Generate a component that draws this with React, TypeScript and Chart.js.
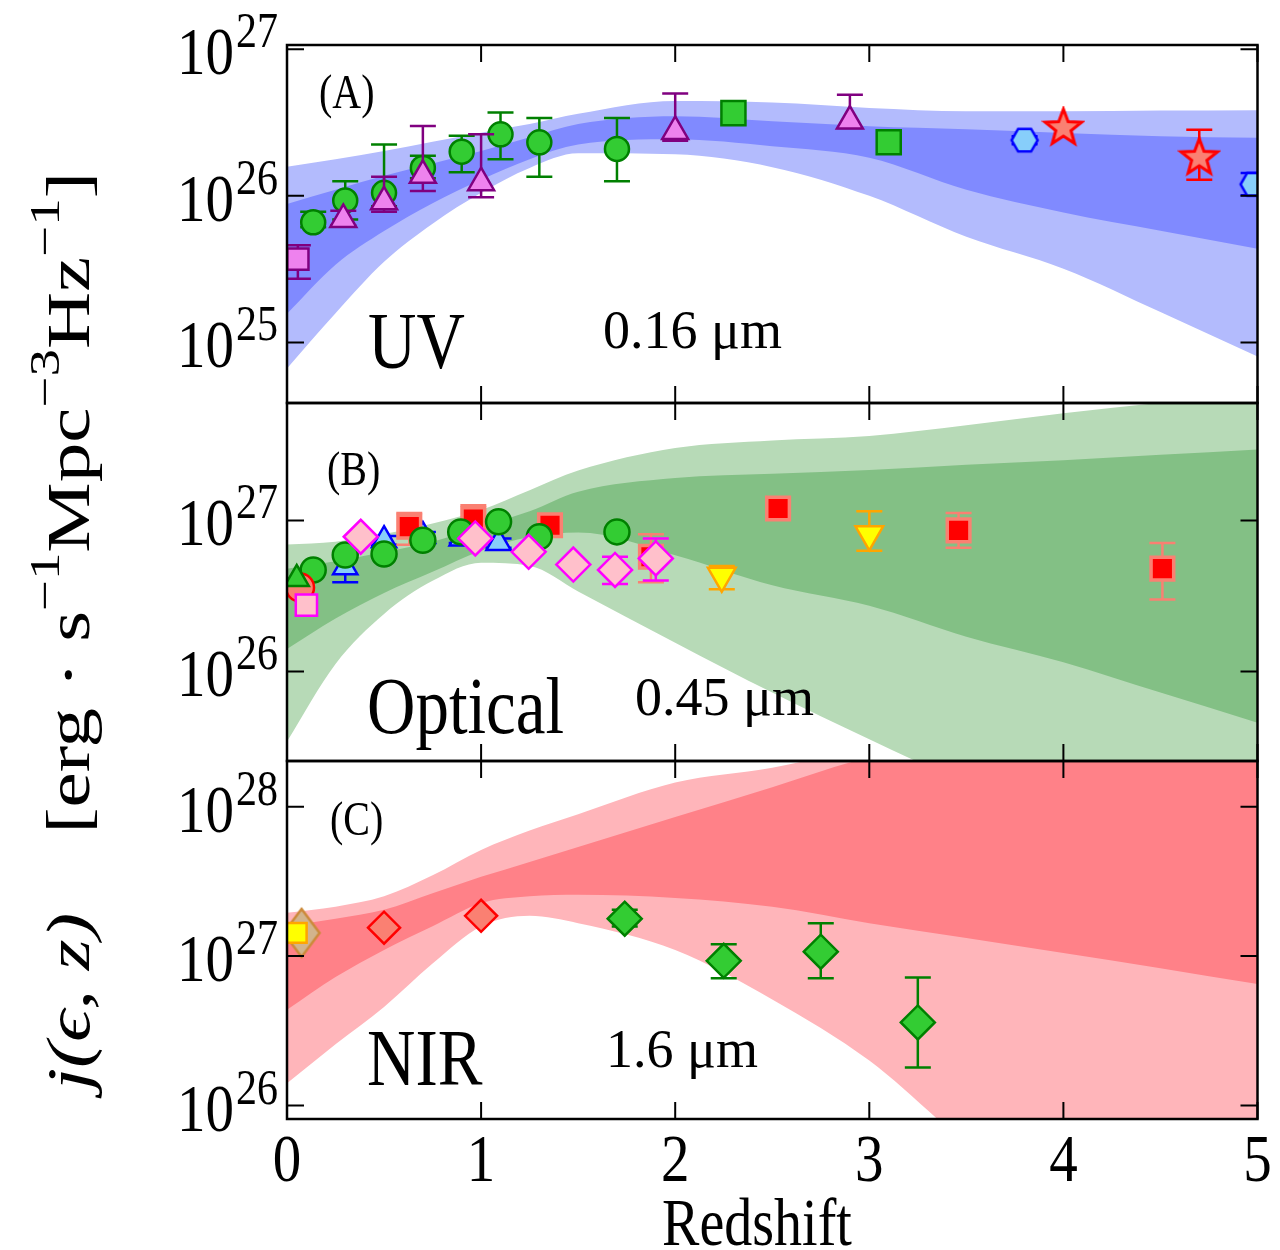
import React, { useEffect, useRef } from 'react';
import { Chart, registerables } from 'chart.js';

const SERIF = '"Liberation Serif", "Times New Roman", serif';

// ---------------- DATA ----------------
// redshift samples of the model bands
const zBand = [0, 0.25, 0.5, 0.75, 1, 1.25, 1.5, 2, 2.5, 3, 3.5, 4, 4.5, 5];

// Panel A : UV (0.16 um) model bands
const uvOuterHi = [1.58e26, 1.78e26, 2.02e26, 2.34e26, 2.70e26, 3.09e26, 3.63e26, 4.44e26, 4.33e26, 3.98e26, 3.78e26, 3.78e26, 3.82e26, 3.84e26];
const uvInnerHi = [8.79e25, 1.10e26, 1.37e26, 1.66e26, 2.02e26, 2.51e26, 3.09e26, 3.49e26, 3.23e26, 2.99e26, 2.85e26, 2.69e26, 2.55e26, 2.49e26];
const uvInnerLo = [1.57e25, 3.39e25, 5.75e25, 8.91e25, 1.29e26, 1.78e26, 2.24e26, 2.43e26, 2.18e26, 1.82e26, 1.10e26, 7.71e25, 5.78e25, 4.35e25];
const uvOuterLo = [6.65e24, 1.58e25, 3.55e25, 6.46e25, 1.05e26, 1.55e26, 1.95e26, 1.92e26, 1.57e26, 1.0e26, 5.25e25, 3.18e25, 1.61e25, 8.0e24];

// Panel A : UV data points
const uvCircZ = [0.135, 0.30, 0.50, 0.70, 0.90, 1.10, 1.30, 1.70];
const uvCircV = [6.6e25, 9.3e25, 1.05e26, 1.55e26, 2.0e26, 2.63e26, 2.32e26, 2.09e26];
const uvCircLo = [6.1e25, 6.9e25, 8.5e25, 1.32e26, 1.45e26, 1.78e26, 1.35e26, 1.26e26];
const uvCircHi = [7.8e25, 1.26e26, 2.24e26, 1.88e26, 2.57e26, 3.7e26, 3.4e26, 3.4e26];

const uvTriZ = [0.29, 0.50, 0.70, 1.0, 2.0, 2.9];
const uvTriV = [6.9e25, 9.1e25, 1.38e26, 1.23e26, 2.75e26, 3.24e26];
const uvTriLo = [6.3e25, 7.8e25, 1.08e26, 9.8e25, 2.38e26, 2.9e26];
const uvTriHi = [7.9e25, 1.35e26, 3.0e26, 2.63e26, 5.0e26, 4.9e26];

const uvSqZ = [0.056];
const uvSqV = [3.7e25];
const uvSqLo = [2.72e25];
const uvSqHi = [4.6e25];

const uvGSqZ = [2.30, 3.10];
const uvGSqV = [3.67e26, 2.32e26];

const uvHexZ = [3.80, 4.98];
const uvHexV = [2.4e26, 1.2e26];
const uvHexLo = [2.25e26, 1.01e26];
const uvHexHi = [2.55e26, 1.43e26];

const uvStarZ = [4.0, 4.70];
const uvStarV = [2.9e26, 1.82e26];
const uvStarLo = [null, 1.29e26];
const uvStarHi = [null, 2.82e26];

// Panel B : Optical (0.45 um) model bands
const opOuterHi = [6.92e26, 7.24e26, 8.13e26, 9.55e26, 1.175e27, 1.585e27, 2.14e27, 3.02e27, 3.39e27, 3.63e27, 4.27e27, 5.13e27, 6.03e27, 7.24e27];
const opInnerHi = [4.79e26, 5.37e26, 6.17e26, 7.24e26, 9.12e26, 1.15e27, 1.55e27, 1.91e27, 2.04e27, 2.16e27, 2.34e27, 2.51e27, 2.72e27, 2.95e27];
const opInnerLo = [1.41e26, 2.24e26, 3.31e26, 4.57e26, 6.31e26, 7.76e26, 8.32e26, 5.89e26, 3.72e26, 2.72e26, 1.70e26, 1.15e26, 7.24e25, 4.57e25];
const opOuterLo = [3.43e25, 1.12e26, 2.40e26, 3.98e26, 5.25e26, 5.01e26, 3.39e26, 1.55e26, 7.24e25, 3.55e25, 1.78e25, 8.9e24, 4.5e24, 2.2e24];

// Panel B : Optical data points
const opRedSqZ = [0.63, 0.96, 1.355, 1.875, 2.53, 3.46, 4.51];
const opRedSqV = [9.1e26, 1.02e27, 9.3e26, 5.75e26, 1.2e27, 8.6e26, 4.8e26];
const opRedSqLo = [6.9e26, 8.5e26, 8.5e26, 3.9e26, 1.12e27, 6.6e26, 3.0e26];
const opRedSqHi = [1.12e27, 1.26e27, 1.0e27, 8.1e26, 1.32e27, 1.12e27, 7.1e26];

const opCircZ = [0.135, 0.30, 0.50, 0.70, 0.895, 1.09, 1.30, 1.70];
const opCircV = [4.7e26, 5.9e26, 6.0e26, 7.4e26, 8.4e26, 9.8e26, 7.8e26, 8.4e26];

const opBlueTriZ = [0.30, 0.50, 0.70, 0.90, 1.09];
const opBlueTriV = [4.9e26, 7.4e26, 7.9e26, 7.6e26, 7.1e26];
const opBlueTriLo = [3.9e26, 6.9e26, 7.4e26, 7.1e26, 6.6e26];
const opBlueTriHi = [6.0e26, 7.9e26, 8.4e26, 8.1e26, 7.6e26];

const opDiaZ = [0.38, 0.97, 1.245, 1.475, 1.69, 1.90];
const opDiaV = [7.8e26, 7.6e26, 6.2e26, 5.1e26, 4.7e26, 5.6e26];
const opDiaLo = [null, null, null, 4.8e26, 3.8e26, 4.0e26];
const opDiaHi = [null, null, null, 5.4e26, 5.75e26, 7.6e26];

const opPinkSqZ = [0.10];
const opPinkSqV = [2.75e26];
const opRedCircZ = [0.067];
const opRedCircV = [3.6e26];
const opGTriZ = [0.05];
const opGTriV = [4.1e26];

const opDownTriZ = [2.24, 3.0];
const opDownTriV = [4.3e26, 8.1e26];
const opDownTriLo = [3.5e26, 6.3e26];
const opDownTriHi = [5.0e26, 1.15e27];

// Panel C : NIR (1.6 um) model bands
const nirOuterHi = [1.95e27, 2.14e27, 2.51e27, 3.47e27, 5.13e27, 6.92e27, 8.91e27, 1.45e28, 1.82e28, 2.51e28, 3.16e28, 3.98e28, 5.0e28, 6.3e28];
const nirInnerHi = [1.585e27, 1.78e27, 2.04e27, 2.63e27, 3.39e27, 4.27e27, 5.37e27, 8.51e27, 1.35e28, 2.14e28, 2.8e28, 3.5e28, 4.5e28, 5.6e28];
const nirInnerLo = [4.37e26, 7.24e26, 1.10e27, 1.585e27, 2.26e27, 2.51e27, 2.57e27, 2.45e27, 2.14e27, 1.66e27, 1.32e27, 1.05e27, 8.3e26, 6.5e26];
const nirOuterLo = [1.41e26, 2.57e26, 4.57e26, 8.91e26, 1.58e27, 1.86e27, 1.66e27, 1.10e27, 5.13e26, 2.0e26, 5.6e25, 2.0e25, 7.9e24, 3.2e24];

// Panel C : NIR data points
const nirTanZ = [0.075];
const nirTanV = [1.43e27];
const nirYelZ = [0.05];
const nirYelV = [1.43e27];
const nirRedDiaZ = [0.50, 1.0];
const nirRedDiaV = [1.55e27, 1.86e27];
const nirGDiaZ = [1.74, 2.25, 2.75, 3.25];
const nirGDiaV = [1.78e27, 9.3e26, 1.07e27, 3.6e26];
const nirGDiaLo = [1.58e27, 7.1e26, 7.1e26, 1.8e26];
const nirGDiaHi = [2.04e27, 1.2e27, 1.66e27, 7.2e26];

// axis ranges and tick labels
const xTicks = [0, 1, 2, 3, 4, 5];
const yRangeA = [3.86e24, 1.07e27];
const yRangeB = [2.55e25, 6.0e27];
const yRangeC = [8.13e25, 2.02e28];

// ---------------- COLOURS ----------------
const GREEN_E = '#008000';
const GREEN_F = '#33cc33';
const PURPLE = '#800080';
const VIOLET = '#ee82ee';
const BLUE = '#0000ff';
const SKY = '#87cefa';
const RED = '#ff0000';
const SALMON = '#fa8072';
const PINK = '#ffc0cb';
const MAGENTA = '#ff00ff';
const ORANGE = '#ffa500';
const YELLOW = '#ffff00';

// ---------------- helpers ----------------
const xy = (xs: number[], ys: number[]) => xs.map((x, i) => ({ x, y: ys[i] }));

function band(yID: string, hi: number[], lo: number[], color: string, order: number) {
  const common = {
    type: 'line', yAxisID: yID, borderWidth: 0, borderColor: 'rgba(0,0,0,0)',
    pointRadius: 0, cubicInterpolationMode: 'monotone', order,
  };
  return [
    { ...common, data: xy(zBand, hi), fill: '+1', backgroundColor: color },
    { ...common, data: xy(zBand, lo), fill: false, backgroundColor: color },
  ];
}

function pts(yID: string, xs: number[], ys: number[], o: any) {
  return {
    type: 'scatter', yAxisID: yID, data: xy(xs, ys), showLine: false,
    pointRadius: o.r, pointStyle: o.style, rotation: o.rot || 0,
    backgroundColor: o.fill, borderColor: o.edge, pointBorderWidth: o.lw ?? 2.5,
    borderWidth: o.lw ?? 2.5, order: o.order ?? 5,
    errLo: o.lo, errHi: o.hi, errColor: o.errColor || o.edge,
  };
}

function makeCanvas(size: number) {
  const c = document.createElement('canvas');
  c.width = size; c.height = size;
  const g = c.getContext('2d')!;
  g.translate(size / 2, size / 2);
  return { c, g };
}
function starImg() {
  const { c, g } = makeCanvas(44);
  g.beginPath();
  for (let k = 0; k < 10; k++) {
    const a = -Math.PI / 2 + (k * Math.PI) / 5;
    const rr = k % 2 === 0 ? 19 : 8;
    g.lineTo(rr * Math.cos(a), rr * Math.sin(a));
  }
  g.closePath();
  g.fillStyle = SALMON; g.fill();
  g.lineWidth = 3; g.strokeStyle = RED; g.lineJoin = 'miter'; g.stroke();
  return c;
}
function hexImg() {
  const { c, g } = makeCanvas(34);
  g.beginPath();
  for (let k = 0; k < 6; k++) {
    const a = (k * Math.PI) / 3;
    g.lineTo(13 * Math.cos(a), 13 * Math.sin(a));
  }
  g.closePath();
  g.fillStyle = SKY; g.fill();
  g.lineWidth = 2.5; g.strokeStyle = BLUE; g.stroke();
  return c;
}
function tallDiamondImg() {
  const { c, g } = makeCanvas(56);
  g.beginPath();
  g.moveTo(0, -24); g.lineTo(18, 0); g.lineTo(0, 24); g.lineTo(-18, 0);
  g.closePath();
  g.fillStyle = '#d2b48c'; g.fill();
  g.lineWidth = 2.5; g.strokeStyle = '#cc8a3a'; g.stroke();
  return c;
}

function sText(ctx: CanvasRenderingContext2D, str: string, x: number, y: number, size: number,
  align: CanvasTextAlign = 'left', sy = 1.2, style = '') {
  ctx.save();
  ctx.font = `${style}${size}px ${SERIF}`;
  ctx.textAlign = align;
  ctx.textBaseline = 'alphabetic';
  ctx.fillStyle = '#000';
  ctx.translate(x, y);
  ctx.scale(1, sy);
  ctx.fillText(str, 0, 0);
  ctx.restore();
}

const CAP = 13;
const TICK = 17;

const panelPlugin = {
  id: 'panelPlugin',
  beforeDatasetDraw(chart: any, args: any) {
    const meta = args.meta;
    const ys = meta.yScale;
    const area = chart.chartArea;
    const ctx = chart.ctx as CanvasRenderingContext2D;
    ctx.save();
    ctx.beginPath();
    ctx.rect(area.left, ys.top, area.right - area.left, ys.bottom - ys.top);
    ctx.clip();
    const ds = chart.data.datasets[args.index];
    if (ds.errLo && ds.errHi) {
      const xs = meta.xScale;
      ctx.save();
      ctx.strokeStyle = ds.errColor;
      ctx.lineWidth = 2.5;
      ds.data.forEach((p: any, i: number) => {
        const lo = ds.errLo[i];
        const hi = ds.errHi[i];
        if (lo == null || hi == null) return;
        const px = xs.getPixelForValue(p.x);
        const y1 = ys.getPixelForValue(hi);
        const y2 = ys.getPixelForValue(lo);
        ctx.beginPath();
        ctx.moveTo(px, y1); ctx.lineTo(px, y2);
        ctx.moveTo(px - CAP, y1); ctx.lineTo(px + CAP, y1);
        ctx.moveTo(px - CAP, y2); ctx.lineTo(px + CAP, y2);
        ctx.stroke();
      });
      ctx.restore();
    }
  },
  afterDatasetDraw(chart: any) {
    chart.ctx.restore();
  },
  afterDraw(chart: any) {
    const ctx = chart.ctx as CanvasRenderingContext2D;
    const area = chart.chartArea;
    const xs = chart.scales.x;
    const panels = [chart.scales.yA, chart.scales.yB, chart.scales.yC];
    ctx.save();
    ctx.strokeStyle = '#000';
    for (const ys of panels) {
      // inward ticks
      ctx.lineWidth = 2;
      ctx.beginPath();
      for (const z of xTicks) {
        const px = xs.getPixelForValue(z);
        ctx.moveTo(px, ys.top); ctx.lineTo(px, ys.top + TICK);
        ctx.moveTo(px, ys.bottom); ctx.lineTo(px, ys.bottom - TICK);
      }
      const eMin = Math.ceil(Math.log10(ys.min) - 1e-9);
      const eMax = Math.floor(Math.log10(ys.max) + 1e-9);
      for (let e = eMin; e <= eMax; e++) {
        const py = ys.getPixelForValue(Math.pow(10, e));
        ctx.moveTo(area.left, py); ctx.lineTo(area.left + TICK, py);
        ctx.moveTo(area.right, py); ctx.lineTo(area.right - TICK, py);
      }
      ctx.stroke();
      // frame
      ctx.lineWidth = 2.5;
      ctx.strokeRect(area.left, ys.top, area.right - area.left, ys.bottom - ys.top);
      // tick labels 10^e
      for (let e = eMin; e <= eMax; e++) {
        const py = ys.getPixelForValue(Math.pow(10, e));
        const exp = String(e);
        ctx.font = `42px ${SERIF}`;
        const wExp = ctx.measureText(exp).width;
        sText(ctx, exp, area.left - 9, py - 2, 42, 'right');
        sText(ctx, '10', area.left - 9 - wExp - 2, py + 25, 57, 'right');
      }
    }
    // x tick labels and title
    for (const z of xTicks) {
      sText(ctx, String(z), xs.getPixelForValue(z), 1181, 57, 'center');
    }
    sText(ctx, 'Redshift', 757, 1245, 56, 'center');

    // panel annotations
    sText(ctx, '(A)', 319, 108, 40);
    sText(ctx, 'UV', 368, 368, 67);
    sText(ctx, '0.16 μm', 603, 348, 54, 'left', 1);
    sText(ctx, '(B)', 327, 485, 40);
    sText(ctx, 'Optical', 367, 733, 67);
    sText(ctx, '0.45 μm', 635, 715, 54, 'left', 1);
    sText(ctx, '(C)', 330, 835, 40);
    sText(ctx, 'NIR', 367, 1085, 67);
    sText(ctx, '1.6 μm', 606, 1067, 54, 'left', 1);

    // y axis title (rotated)
    const runs = [
      { t: 'j(ϵ, z)', s: 62, it: true, sup: false },
      { t: '    ', s: 62, it: false, sup: false },
      { t: '[erg · s', s: 62, it: false, sup: false },
      { t: '−1', s: 43, it: false, sup: true },
      { t: 'Mpc', s: 62, it: false, sup: false },
      { t: '−3', s: 43, it: false, sup: true },
      { t: 'Hz', s: 62, it: false, sup: false },
      { t: '−1', s: 43, it: false, sup: true },
      { t: ']', s: 62, it: false, sup: false },
    ];
    let total = 0;
    const widths = runs.map((r) => {
      ctx.font = `${r.it ? 'italic ' : ''}${r.s}px ${SERIF}`;
      const w = ctx.measureText(r.t).width;
      total += w;
      return w;
    });
    const y0 = 1090;
    const y1 = 172;
    const stretch = (y0 - y1) / total;
    ctx.save();
    ctx.translate(89, y0);
    ctx.rotate(-Math.PI / 2);
    ctx.scale(stretch, 1);
    ctx.fillStyle = '#000';
    ctx.textBaseline = 'alphabetic';
    ctx.textAlign = 'left';
    let pos = 0;
    runs.forEach((r, i) => {
      ctx.font = `${r.it ? 'italic ' : ''}${r.s}px ${SERIF}`;
      ctx.fillText(r.t, pos, r.sup ? -30 : 0);
      pos += widths[i];
    });
    ctx.restore();
    ctx.restore();
  },
};

Chart.register(panelPlugin as any);
Chart.register(...registerables);

function buildConfig() {
  const star = starImg();
  const hex = hexImg();
  const tallDia = tallDiamondImg();
  const datasets: any[] = [
    // Panel A
    ...band('yA', uvOuterHi, uvOuterLo, 'rgb(179,187,253)', 100),
    ...band('yA', uvInnerHi, uvInnerLo, 'rgb(128,138,255)', 90),
    pts('yA', uvCircZ, uvCircV, { r: 12, style: 'circle', fill: GREEN_F, edge: GREEN_E, lo: uvCircLo, hi: uvCircHi, order: 20 }),
    pts('yA', uvTriZ, uvTriV, { r: 15, style: 'triangle', fill: VIOLET, edge: PURPLE, lo: uvTriLo, hi: uvTriHi, order: 10 }),
    pts('yA', uvSqZ, uvSqV, { r: 15, style: 'rect', fill: VIOLET, edge: PURPLE, lo: uvSqLo, hi: uvSqHi, order: 10 }),
    pts('yA', uvGSqZ, uvGSqV, { r: 17, style: 'rect', fill: GREEN_F, edge: GREEN_E, order: 10 }),
    pts('yA', uvHexZ, uvHexV, { r: 13, style: hex, fill: SKY, edge: BLUE, lo: uvHexLo, hi: uvHexHi, order: 10 }),
    pts('yA', uvStarZ, uvStarV, { r: 19, style: star, fill: SALMON, edge: RED, lo: uvStarLo, hi: uvStarHi, order: 10 }),
    // Panel B
    ...band('yB', opOuterHi, opOuterLo, 'rgb(183,218,183)', 100),
    ...band('yB', opInnerHi, opInnerLo, 'rgb(131,192,133)', 90),
    pts('yB', opBlueTriZ, opBlueTriV, { r: 14, style: 'triangle', fill: SKY, edge: BLUE, lo: opBlueTriLo, hi: opBlueTriHi, order: 30 }),
    pts('yB', opRedSqZ, opRedSqV, { r: 16, style: 'rect', fill: RED, edge: SALMON, lw: 3.5, lo: opRedSqLo, hi: opRedSqHi, order: 25 }),
    pts('yB', opCircZ, opCircV, { r: 12.5, style: 'circle', fill: GREEN_F, edge: GREEN_E, order: 20 }),
    pts('yB', opDownTriZ, opDownTriV, { r: 16, style: 'triangle', rot: 180, fill: YELLOW, edge: ORANGE, lo: opDownTriLo, hi: opDownTriHi, order: 15 }),
    pts('yB', opDiaZ, opDiaV, { r: 17, style: 'rectRot', fill: PINK, edge: MAGENTA, lo: opDiaLo, hi: opDiaHi, order: 10 }),
    pts('yB', opRedCircZ, opRedCircV, { r: 14, style: 'circle', fill: SALMON, edge: RED, order: 9 }),
    pts('yB', opPinkSqZ, opPinkSqV, { r: 15, style: 'rect', fill: PINK, edge: MAGENTA, order: 8 }),
    pts('yB', opGTriZ, opGTriV, { r: 14, style: 'triangle', fill: GREEN_F, edge: GREEN_E, order: 7 }),
    // Panel C
    ...band('yC', nirOuterHi, nirOuterLo, 'rgb(255,181,186)', 100),
    ...band('yC', nirInnerHi, nirInnerLo, 'rgb(255,129,136)', 90),
    pts('yC', nirTanZ, nirTanV, { r: 20, style: tallDia, fill: '#d2b48c', edge: '#cc8a3a', order: 20 }),
    pts('yC', nirYelZ, nirYelV, { r: 14, style: 'rect', fill: YELLOW, edge: ORANGE, order: 10 }),
    pts('yC', nirRedDiaZ, nirRedDiaV, { r: 16, style: 'rectRot', fill: SALMON, edge: RED, order: 10 }),
    pts('yC', nirGDiaZ, nirGDiaV, { r: 17, style: 'rectRot', fill: GREEN_F, edge: GREEN_E, lo: nirGDiaLo, hi: nirGDiaHi, order: 10 }),
  ];

  const yBase = (min: number, max: number, weight: number) => ({
    type: 'logarithmic', position: 'left', stack: 'panels', stackWeight: 1, weight,
    min, max, display: false,
  });

  return {
    type: 'scatter',
    data: { datasets },
    options: {
      animation: false,
      responsive: false,
      devicePixelRatio: 1,
      events: [],
      layout: { padding: { left: 287, right: 17, top: 45, bottom: 131 } },
      plugins: { legend: { display: false }, tooltip: { enabled: false } },
      scales: {
        x: { type: 'linear', min: 0, max: 5, position: 'bottom', display: false },
        yA: yBase(yRangeA[0], yRangeA[1], 3),
        yB: yBase(yRangeB[0], yRangeB[1], 2),
        yC: yBase(yRangeC[0], yRangeC[1], 1),
      },
    },
  };
}

export default function App() {
  const ref = useRef<HTMLCanvasElement>(null);
  useEffect(() => {
    const chart = new Chart(ref.current as HTMLCanvasElement, buildConfig() as any);
    return () => chart.destroy();
  }, []);
  return (
    <div style={{ position: 'absolute', left: 0, top: 0, width: 1280, height: 1250, background: '#fff' }}>
      <canvas ref={ref} width={1280} height={1250} style={{ width: 1280, height: 1250, display: 'block' }} />
    </div>
  );
}
